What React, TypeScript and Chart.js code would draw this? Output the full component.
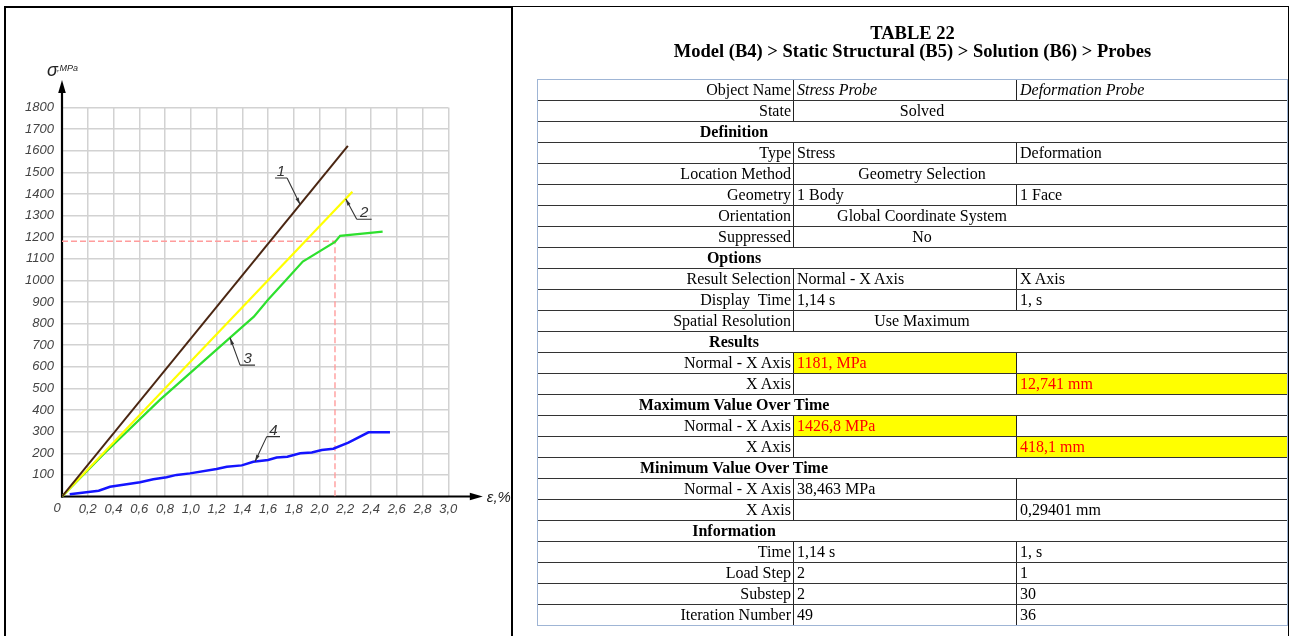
import React, { useEffect, useRef } from 'react';
import { Chart, registerables } from 'chart.js';

Chart.register(...registerables);

// ---------- chart data ----------
const xTickLabels = ['0', '0,2', '0,4', '0,6', '0,8', '1,0', '1,2', '1,4', '1,6', '1,8', '2,0', '2,2', '2,4', '2,6', '2,8', '3,0'];
const yTickValues = [0, 100, 200, 300, 400, 500, 600, 700, 800, 900, 1000, 1100, 1200, 1300, 1400, 1500, 1600, 1700, 1800];
const yTickLabels = ['', '100', '200', '300', '400', '500', '600', '700', '800', '900', '1000', '1100', '1200', '1300', '1400', '1500', '1600', '1700', '1800'];

const curve1Strain = [0, 2.22];
const curve1Stress = [0, 1622];

const curve2Strain = [0, 2.255];
const curve2Stress = [0, 1410];

const curve3Strain = [0, 0.33, 0.76, 1.4, 1.49, 1.6, 1.74, 1.87, 2.12, 2.16, 2.49];
const curve3Stress = [0, 200, 447, 785, 832, 910, 1002, 1087, 1178, 1206, 1226];

const curve4Strain = [0.06, 0.285, 0.373, 0.606, 0.709, 0.812, 0.89, 0.994, 1.2, 1.28, 1.396, 1.486, 1.6, 1.667, 1.75, 1.85, 1.94, 2.017, 2.107, 2.224, 2.38, 2.547];
const curve4Stress = [10, 27, 45, 66, 80, 89, 100, 107, 127, 138, 144, 161, 169, 180, 184, 200, 204, 215, 221, 249, 297, 297];

const refStress = 1181;
const refStrain = 2.12;

// callouts: label, shelf start/end (strain), shelf level (stress), which end the leader leaves from, tip strain on curve
const calloutLabels = ['1', '2', '3', '4'];
const calloutShelfFrom = [1.654, 2.289, 1.383, 1.59];
const calloutShelfTo = [1.748, 2.405, 1.499, 1.693];
const calloutShelfStress = [1474, 1283, 608, 277];
const calloutLeaderFromEnd = [true, false, false, false];
const calloutTipStrain = [1.849, 2.203, 1.305, 1.499];

// ---------- table text ----------
const tableTitle = 'TABLE 22';
const tableSubtitle = 'Model (B4) > Static Structural (B5) > Solution (B6) > Probes';
const tableLabels = ['Object Name', 'State', 'Definition', 'Type', 'Location Method', 'Geometry', 'Orientation', 'Suppressed', 'Options', 'Result Selection', 'Display  Time', 'Spatial Resolution', 'Results', 'Normal - X Axis', 'X Axis', 'Maximum Value Over Time', 'Normal - X Axis', 'X Axis', 'Minimum Value Over Time', 'Normal - X Axis', 'X Axis', 'Information', 'Time', 'Load Step', 'Substep', 'Iteration Number'];
const tableStress = ['Stress Probe', 'Solved', '', 'Stress', 'Geometry Selection', '1 Body', 'Global Coordinate System', 'No', '', 'Normal - X Axis', '1,14 s', 'Use Maximum', '', '1181, MPa', '', '', '1426,8 MPa', '', '', '38,463 MPa', '', '', '1,14 s', '2', '2', '49'];
const tableDeform = ['Deformation Probe', '', '', 'Deformation', '', '1 Face', '', '', '', 'X Axis', '1, s', '', '', '', '12,741 mm', '', '', '418,1 mm', '', '', '0,29401 mm', '', '1, s', '1', '30', '36'];
// row kinds: p = pair, m = merged, h = section header, i = italic pair, a = highlighted stress cell, b = highlighted deformation cell
const tableKinds = ['i', 'm', 'h', 'p', 'm', 'p', 'm', 'm', 'h', 'p', 'p', 'm', 'h', 'a', 'b', 'h', 'a', 'b', 'h', 'p', 'p', 'h', 'p', 'p', 'p', 'p'];

function zip(xs: number[], ys: number[]) {
  return xs.map((x, i) => ({ x, y: ys[i] }));
}

function interp(xs: number[], ys: number[], x: number) {
  for (let i = 0; i < xs.length - 1; i++) {
    if (x >= xs[i] && x <= xs[i + 1]) {
      const t = (x - xs[i]) / (xs[i + 1] - xs[i]);
      return ys[i] + t * (ys[i + 1] - ys[i]);
    }
  }
  return ys[ys.length - 1];
}

const curveStrains = [curve1Strain, curve2Strain, curve3Strain, curve4Strain];
const curveStresses = [curve1Stress, curve2Stress, curve3Stress, curve4Stress];

function arrowHead(ctx: CanvasRenderingContext2D, fx: number, fy: number, tx: number, ty: number, len: number, half: number) {
  const a = Math.atan2(ty - fy, tx - fx);
  ctx.beginPath();
  ctx.moveTo(tx, ty);
  ctx.lineTo(tx - len * Math.cos(a) + half * Math.sin(a), ty - len * Math.sin(a) - half * Math.cos(a));
  ctx.lineTo(tx - len * Math.cos(a) - half * Math.sin(a), ty - len * Math.sin(a) + half * Math.cos(a));
  ctx.closePath();
  ctx.fill();
}

const TICK_FONT_CSS = 'italic 13px "Liberation Sans"';

const decorPlugin = {
  id: 'decor',
  beforeDatasetsDraw(chart: any) {
    const { ctx, scales } = chart;
    const x = scales.x;
    const y = scales.y;
    const ox = x.getPixelForValue(0);
    const oy = y.getPixelForValue(0);
    const yTip = y.getPixelForValue(1800) - 27.5;
    const xTip = x.getPixelForValue(3) + 34.5;
    ctx.save();
    ctx.strokeStyle = '#000';
    ctx.fillStyle = '#000';
    ctx.lineWidth = 2.2;
    ctx.beginPath();
    ctx.moveTo(ox, oy + 1);
    ctx.lineTo(ox, yTip + 8);
    ctx.stroke();
    ctx.beginPath();
    ctx.moveTo(ox - 1, oy);
    ctx.lineTo(xTip - 8, oy);
    ctx.stroke();
    arrowHead(ctx, ox, oy, ox, yTip, 13, 3.8);
    arrowHead(ctx, ox, oy, xTip, oy, 13, 3.8);

    // origin tick label, set slightly left of the axis as in the drawing
    ctx.fillStyle = '#444';
    ctx.font = TICK_FONT_CSS;
    ctx.textAlign = 'center';
    ctx.textBaseline = 'top';
    ctx.fillText(xTickLabels[0], ox - 5, oy + 5);

    ctx.fillStyle = '#222';
    ctx.textBaseline = 'alphabetic';
    ctx.textAlign = 'left';
    ctx.font = 'italic 18px "Liberation Sans"';
    ctx.fillText('σ', ox - 15, yTip - 4);
    ctx.font = 'italic 9px "Liberation Sans"';
    ctx.fillText(',MPa', ox - 5, yTip - 9);
    ctx.font = 'italic 15px "Liberation Sans"';
    ctx.fillText('ε,%', xTip + 4, oy + 5);
    ctx.restore();
  },
  afterDatasetsDraw(chart: any) {
    const { ctx, scales } = chart;
    const x = scales.x;
    const y = scales.y;
    ctx.save();
    ctx.strokeStyle = '#333';
    ctx.fillStyle = '#333';
    ctx.lineWidth = 1.1;
    calloutLabels.forEach((lab, i) => {
      const sx0 = x.getPixelForValue(calloutShelfFrom[i]);
      const sx1 = x.getPixelForValue(calloutShelfTo[i]);
      const sy = y.getPixelForValue(calloutShelfStress[i]);
      const tx = x.getPixelForValue(calloutTipStrain[i]);
      const ty = y.getPixelForValue(interp(curveStrains[i], curveStresses[i], calloutTipStrain[i]));
      const fx = calloutLeaderFromEnd[i] ? sx1 : sx0;
      ctx.beginPath();
      ctx.moveTo(sx0, sy);
      ctx.lineTo(sx1, sy);
      ctx.moveTo(fx, sy);
      ctx.lineTo(tx, ty);
      ctx.stroke();
      arrowHead(ctx, fx, sy, tx, ty, 7, 1.8);
      ctx.font = 'italic 15px "Liberation Sans"';
      ctx.textAlign = 'center';
      ctx.textBaseline = 'alphabetic';
      ctx.fillText(lab, (sx0 + sx1) / 2, sy - 2);
    });
    ctx.restore();
  },
};

const tickFont = { family: 'Liberation Sans', size: 13, style: 'italic' as const };

export default function App() {
  const canvasRef = useRef<HTMLCanvasElement>(null);

  useEffect(() => {
    const canvas = canvasRef.current;
    if (!canvas) return;
    const lineDs = (label: string, data: any[], color: string, width: number, extra: any = {}) => ({
      label,
      data,
      borderColor: color,
      backgroundColor: color,
      borderWidth: width,
      pointRadius: 0,
      tension: 0,
      fill: false,
      ...extra,
    });
    const chart = new Chart(canvas, {
      type: 'line',
      data: {
        datasets: [
          lineDs('1', zip(curve1Strain, curve1Stress), '#4a2612', 2),
          lineDs('2', zip(curve2Strain, curve2Stress), '#ffff00', 2.2),
          lineDs('3', zip(curve3Strain, curve3Stress), '#2ee02e', 2.2),
          lineDs('4', zip(curve4Strain, curve4Stress), '#1414ff', 2.5),
          lineDs('ref', [{ x: 0, y: refStress }, { x: refStrain, y: refStress }, { x: refStrain, y: 0 }], '#ff9c9c', 1.4, { borderDash: [6, 3] }),
        ],
      },
      options: {
        animation: false,
        responsive: false,
        maintainAspectRatio: false,
        devicePixelRatio: 1,
        layout: { padding: { left: 0, right: 63.7, top: 107.5, bottom: 109.5 } },
        plugins: { legend: { display: false }, tooltip: { enabled: false } },
        scales: {
          x: {
            type: 'linear',
            min: 0,
            max: 3,
            afterFit: (s: any) => { s.height = 30; },
            afterBuildTicks: (s: any) => { s.ticks = xTickLabels.map((l) => ({ value: parseFloat(l.replace(',', '.')) })); },
            ticks: {
              autoSkip: false,
              maxRotation: 0,
              minRotation: 0,
              padding: 5,
              color: '#444',
              font: tickFont,
              callback: (_v: any, i: number) => (i === 0 ? '' : xTickLabels[i]),
            },
            grid: { color: '#d2d2d2', lineWidth: 1.5, drawTicks: false },
            border: { display: false },
          },
          y: {
            type: 'linear',
            min: 0,
            max: 1800,
            afterFit: (s: any) => { s.width = 62; },
            afterBuildTicks: (s: any) => { s.ticks = yTickValues.map((v) => ({ value: v })); },
            ticks: {
              autoSkip: false,
              padding: 8,
              color: '#444',
              font: tickFont,
              callback: (_v: any, i: number) => yTickLabels[i],
            },
            grid: { color: '#d2d2d2', lineWidth: 1.5, drawTicks: false },
            border: { display: false },
          },
        },
      },
      plugins: [decorPlugin],
    } as any);
    return () => chart.destroy();
  }, []);

  const ROW = 21;
  const C1 = 256;
  const C2 = 479;
  const W = 751;

  return (
    <div style={{ position: 'absolute', left: 0, top: 0, width: 1290, height: 636, overflow: 'hidden', background: '#fff' }}>
      <canvas ref={canvasRef} width={512} height={636} style={{ position: 'absolute', left: 0, top: 0, width: 512, height: 636 }} />
      {/* left frame */}
      <div style={{ position: 'absolute', left: 4, top: 6, width: 509, height: 640, boxSizing: 'border-box', borderLeft: '2px solid #000', borderTop: '2px solid #000', borderRight: '2px solid #000', pointerEvents: 'none' }} />
      {/* right frame */}
      <div style={{ position: 'absolute', left: 513, top: 6, width: 776, height: 640, boxSizing: 'border-box', borderTop: '1px solid #000', borderRight: '1px solid #000' }} />
      {/* title */}
      <div style={{ position: 'absolute', left: 537, top: 24, width: W, textAlign: 'center', fontFamily: '"Liberation Serif"', fontWeight: 'bold', fontSize: 18.5, lineHeight: '18px', color: '#000' }}>
        <div>{tableTitle}</div>
        <div>{tableSubtitle}</div>
      </div>
      {/* table */}
      <div style={{ position: 'absolute', left: 537, top: 79, width: W, height: ROW * tableLabels.length + 1, fontFamily: '"Liberation Serif"', fontSize: 16, color: '#000' }}>
        {tableLabels.map((lab, i) => {
          const kind = tableKinds[i];
          const top = i * ROW;
          const cells: React.ReactNode[] = [];
          if (i > 0) {
            cells.push(<div key="hl" style={{ position: 'absolute', left: 1, top, width: W - 2, height: 1, background: '#333' }} />);
          }
          const textStyle: React.CSSProperties = { position: 'absolute', top: top + 1, height: ROW - 1, lineHeight: `${ROW - 1}px`, whiteSpace: 'pre', overflow: 'hidden' };
          if (kind === 'h') {
            cells.push(<div key="t" style={{ ...textStyle, left: 0, width: 394, textAlign: 'center', fontWeight: 'bold' }}>{lab}</div>);
            return cells;
          }
          cells.push(<div key="v1" style={{ position: 'absolute', left: C1, top: top + 1, width: 1, height: ROW - 1, background: '#222' }} />);
          cells.push(<div key="l" style={{ ...textStyle, left: 1, width: C1 - 3, textAlign: 'right' }}>{lab}</div>);
          if (kind === 'm') {
            cells.push(<div key="m" style={{ ...textStyle, left: C1 + 1, width: 256, textAlign: 'center' }}>{tableStress[i]}</div>);
            return cells;
          }
          cells.push(<div key="v2" style={{ position: 'absolute', left: C2, top: top + 1, width: 1, height: ROW - 1, background: '#222' }} />);
          const italic = kind === 'i';
          const hlA = kind === 'a';
          const hlB = kind === 'b';
          cells.push(
            <div key="s" style={{ ...textStyle, left: C1 + 1, width: C2 - C1 - 1, paddingLeft: 3, boxSizing: 'border-box', fontStyle: italic ? 'italic' : 'normal', background: hlA ? '#ffff00' : 'transparent', color: hlA ? '#ff0000' : '#000' }}>{tableStress[i]}</div>
          );
          cells.push(
            <div key="d" style={{ ...textStyle, left: C2 + 1, width: W - C2 - 2, paddingLeft: 3, boxSizing: 'border-box', fontStyle: italic ? 'italic' : 'normal', background: hlB ? '#ffff00' : 'transparent', color: hlB ? '#ff0000' : '#000' }}>{tableDeform[i]}</div>
          );
          return cells;
        })}
        <div style={{ position: 'absolute', left: 0, top: 0, width: W, height: ROW * tableLabels.length + 1, boxSizing: 'border-box', border: '1px solid #9fb5d5', pointerEvents: 'none' }} />
      </div>
    </div>
  );
}
